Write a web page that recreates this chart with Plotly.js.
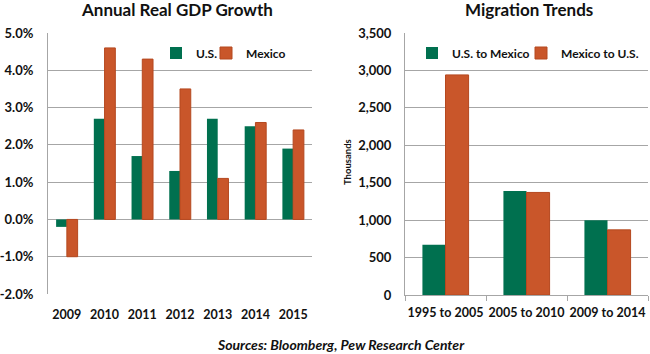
<!DOCTYPE html>
<html><head><meta charset="utf-8">
<script src="https://cdn.plot.ly/plotly-3.0.1.min.js"></script>
<style>body{margin:0;padding:0;background:#fff}#chart{width:650px;height:354px}</style>
</head><body><div id="chart"></div>
<script>
var years = ['2009','2010','2011','2012','2013','2014','2015'];
var gdpUS = [-0.2, 2.7, 1.7, 1.3, 2.7, 2.5, 1.9];
var gdpMexico = [-1.0, 4.6, 4.3, 3.5, 1.1, 2.6, 2.4];
var gdpTickVals = [-2, -1, 0, 1, 2, 3, 4, 5];
var gdpTickText = ['-2.0%', '-1.0%', '0.0%', '1.0%', '2.0%', '3.0%', '4.0%', '5.0%'];
var periods = ['1995 to 2005','2005 to 2010','2009 to 2014'];
var usToMexico = [670, 1390, 1000];
var mexicoToUS = [2940, 1370, 870];

var GREEN = '#00704F', ORANGE = '#C9562A', ORANGE_EDGE = '#B5481F';
var FONT = 'Lato, Carlito, sans-serif';
var xTickFont = {family: FONT, size: 12.5, color: '#111', weight: 'bold'};
var yTickFont = {family: FONT, size: 13, color: '#111', weight: 'bold'};
var legFont = {family: FONT, size: 12, weight: 'bold', color: '#111'};

var H = 354, W = 650;
function py(px){ return (H - px) / H; }
function pxx(px){ return px / W; }

var traces = [
  {type:'bar', x: years, y: gdpUS, name:'U.S.', marker:{color:GREEN}, xaxis:'x', yaxis:'y', legend:'legend'},
  {type:'bar', x: years, y: gdpMexico, name:'Mexico', marker:{color:ORANGE, line:{color:ORANGE_EDGE, width:1}}, xaxis:'x', yaxis:'y', legend:'legend2'},
  {type:'bar', x: periods, y: usToMexico, name:'U.S. to Mexico', marker:{color:GREEN}, xaxis:'x2', yaxis:'y2', legend:'legend3'},
  {type:'bar', x: periods, y: mexicoToUS, name:'Mexico to U.S.', marker:{color:ORANGE, line:{color:ORANGE_EDGE, width:1}}, xaxis:'x2', yaxis:'y2', legend:'legend4'}
];

function leg(xpx, ypx, anchor){
  return {orientation:'h', x:pxx(xpx), y:py(ypx), xanchor:anchor || 'left', yanchor:'middle', xref:'paper', yref:'paper',
          font:legFont, bgcolor:'rgba(0,0,0,0)', borderwidth:0, itemwidth:30};
}

var layout = {
  width: W, height: H,
  margin: {l:0, r:0, t:0, b:0, autoexpand:false},
  paper_bgcolor:'#fff', plot_bgcolor:'#fff',
  barmode:'group', bargap:0.43, bargroupgap:0,
  font:{family: FONT, color:'#111'},
  showlegend:true,
  xaxis:{domain:[pxx(48), pxx(312)], anchor:'y', type:'category', tickfont:xTickFont, automargin:false,
         showgrid:false, showline:false, ticks:'', ticklabelstandoff:11, tickangle:0},
  yaxis:{domain:[py(294), py(33)], anchor:'x', range:[-2,5], tickmode:'array', tickvals:gdpTickVals, ticktext:gdpTickText,
         tickfont:yTickFont, showgrid:true, gridcolor:'#A6A6A6', gridwidth:1, zeroline:false, automargin:false,
         showline:true, linecolor:'#A6A6A6', linewidth:1, ticks:'', ticklabelstandoff:11},
  xaxis2:{domain:[pxx(405), pxx(648)], anchor:'y2', type:'category', tickfont:xTickFont, automargin:false,
          showgrid:false, showline:true, linecolor:'#A6A6A6', linewidth:1, tickangle:0,
          ticks:'outside', tickson:'boundaries', ticklen:5, tickcolor:'#A6A6A6', ticklabelstandoff:6},
  yaxis2:{domain:[py(295), py(33)], anchor:'x2', range:[0,3500], dtick:500, tickformat:',', automargin:false,
          tickfont:yTickFont, showgrid:true, gridcolor:'#A6A6A6', gridwidth:1, zeroline:false,
          showline:true, linecolor:'#A6A6A6', linewidth:1, ticks:'', ticklabelstandoff:10},
  legend: leg(156, 53),
  legend2: leg(206, 53),
  legend3: leg(412, 53),
  legend4: leg(644, 53, 'right'),
  annotations:[
    {text:'Annual Real GDP Growth', xref:'paper', yref:'paper', x:pxx(177), y:py(10), xanchor:'center', yanchor:'middle',
     showarrow:false, font:{family:FONT, size:17, weight:'bold', color:'#111'}},
    {text:'Migration Trends', xref:'paper', yref:'paper', x:pxx(529), y:py(10), xanchor:'center', yanchor:'middle',
     showarrow:false, font:{family:FONT, size:17, weight:'bold', color:'#111'}},
    {text:'Thousands', xref:'paper', yref:'paper', x:pxx(347), y:py(162), xanchor:'center', yanchor:'middle', textangle:-90,
     showarrow:false, font:{family:FONT, size:9.5, weight:'bold', color:'#111'}},
    {text:'<i>Sources: Bloomberg, Pew Research Center</i>', xref:'paper', yref:'paper', x:pxx(341), y:py(344), xanchor:'center', yanchor:'middle',
     showarrow:false, font:{family:FONT, size:14, weight:'bold', color:'#111'}}
  ]
};

Plotly.newPlot('chart', traces, layout, {displayModeBar:false, staticPlot:true});
</script></body></html>
